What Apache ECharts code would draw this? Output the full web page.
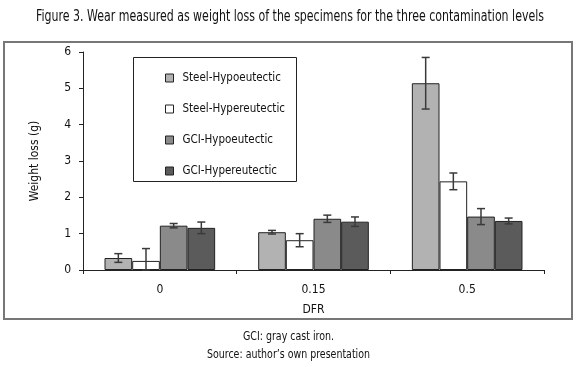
<!DOCTYPE html>
<html><head><meta charset="utf-8">
<script src="https://cdn.jsdelivr.net/npm/echarts@6/dist/echarts.min.js"></script>
<style>html,body{margin:0;padding:0;background:#fff}#c{width:580px;height:367px}</style>
</head><body><div id="c"></div>
<script>
const categories = ['0', '0.15', '0.5'];
const seriesNames = ['Steel-Hypoeutectic', 'Steel-Hypereutectic', 'GCI-Hypoeutectic', 'GCI-Hypereutectic'];
const steelHypo = [0.33, 1.04, 5.14];
const steelHyper = [0.25, 0.82, 2.44];
const gciHypo = [1.22, 1.41, 1.47];
const gciHyper = [1.16, 1.33, 1.35];
const steelHypoErr = [0.12, 0.05, 0.71];
const steelHyperErr = [0.34, 0.18, 0.23];
const gciHypoErr = [0.06, 0.10, 0.22];
const gciHyperErr = [0.16, 0.13, 0.08];
const yTicks = [0, 1, 2, 3, 4, 5, 6];
const titleText = 'Figure 3. Wear measured as weight loss of the specimens for the three contamination levels';
const noteText = 'GCI: gray cast iron.';
const sourceText = 'Source: author\u2019s own presentation';

const values = [steelHypo, steelHyper, gciHypo, gciHyper];
const errors = [steelHypoErr, steelHyperErr, gciHypoErr, gciHyperErr];
const colors = ['#b2b2b2', '#ffffff', '#8a8a8a', '#5b5b5b'];
const FONT = '"Liberation Sans Narrow","DejaVu Sans Condensed","Liberation Sans",sans-serif';
const CAT_GAP = 0.28;

// measure texts to condense them to the reference widths
const mc = document.createElement('canvas').getContext('2d');
function fitScale(text, font, target) { mc.font = font; return target / mc.measureText(text).width; }
const TITLE_FONT = '15px ' + FONT;
const NOTE_FONT = '13px ' + FONT;
const titleScale = fitScale(titleText, TITLE_FONT, 508);
const noteScale = fitScale(noteText, NOTE_FONT, 91);
const sourceScale = fitScale(sourceText, NOTE_FONT, 163);

const chart = echarts.init(document.getElementById('c'), null, {renderer: 'canvas'});

const series = [];
values.forEach((vals, i) => {
  series.push({
    name: seriesNames[i], type: 'bar', data: vals,
    barGap: '0%', barCategoryGap: (CAT_GAP * 100) + '%',
    itemStyle: {color: colors[i], borderColor: '#222', borderWidth: 1},
    emphasis: {disabled: true}
  });
});
values.forEach((vals, i) => {
  series.push({
    type: 'custom', name: 'err' + i,
    data: vals.map((v, k) => [k, v - errors[i][k], v + errors[i][k]]),
    renderItem: function (params, api) {
      const k = api.value(0);
      const band = api.size([1, 0])[0];
      const bw = band * (1 - CAT_GAP) / 4;
      const off = (i - 1.5) * bw;
      const lo = api.coord([k, Math.max(api.value(1), 0)]);
      const hi = api.coord([k, api.value(2)]);
      const x = lo[0] + off;
      const cap = 4;
      const st = {stroke: '#3a3a3a', lineWidth: 1.5};
      return {type: 'group', children: [
        {type: 'line', shape: {x1: x, y1: lo[1], x2: x, y2: hi[1]}, style: st},
        {type: 'line', shape: {x1: x - cap, y1: hi[1], x2: x + cap, y2: hi[1]}, style: st},
        {type: 'line', shape: {x1: x - cap, y1: lo[1], x2: x + cap, y2: lo[1]}, style: st}
      ]};
    },
    z: 10, silent: true
  });
});

chart.setOption({
  animation: false,
  textStyle: {fontFamily: FONT},
  legend: {
    data: seriesNames, orient: 'vertical', left: 160, top: 66, itemGap: 17,
    itemWidth: 8, itemHeight: 8, icon: 'rect', selectedMode: false,
    itemStyle: {borderColor: '#222', borderWidth: 1},
    textStyle: {fontFamily: FONT, fontSize: 11.5, color: '#111', lineHeight: 14, padding: [0, 0, 0, 4]}
  },
  grid: {left: 83, right: 36, top: 52, bottom: 97, containLabel: false},
  xAxis: {
    type: 'category', data: categories,
    name: 'DFR', nameLocation: 'middle', nameGap: 34,
    nameTextStyle: {fontFamily: FONT, fontSize: 12, color: '#111'},
    axisLine: {lineStyle: {color: '#222', width: 1}},
    axisTick: {show: true, length: 4, lineStyle: {color: '#222'}},
    axisLabel: {fontFamily: FONT, fontSize: 12, color: '#111', margin: 14}
  },
  yAxis: {
    type: 'value', min: yTicks[0], max: yTicks[yTicks.length - 1], interval: 1,
    name: 'Weight loss (g)', nameLocation: 'middle', nameGap: 42,
    nameTextStyle: {fontFamily: FONT, fontSize: 12, color: '#111'},
    splitLine: {show: false},
    axisLine: {show: true, lineStyle: {color: '#222', width: 1}},
    axisTick: {show: true, length: 4, lineStyle: {color: '#222'}},
    axisLabel: {fontFamily: FONT, fontSize: 12, color: '#111', margin: 12}
  },
  graphic: [
    {type: 'text', x: 290, y: 17, scaleX: titleScale, style: {text: titleText, font: TITLE_FONT, fill: '#111', textAlign: 'center', textVerticalAlign: 'middle'}},
    {type: 'rect', shape: {x: 4, y: 42, width: 568, height: 277}, style: {fill: 'none', stroke: '#777', lineWidth: 2}, silent: true, z: -1},
    {type: 'rect', shape: {x: 133.5, y: 57.5, width: 163, height: 124}, style: {fill: 'none', stroke: '#222', lineWidth: 1}, silent: true, z: 5},
    {type: 'text', x: 288.5, y: 337, scaleX: noteScale, style: {text: noteText, font: NOTE_FONT, fill: '#111', textAlign: 'center', textVerticalAlign: 'middle'}},
    {type: 'text', x: 288.5, y: 355, scaleX: sourceScale, style: {text: sourceText, font: NOTE_FONT, fill: '#111', textAlign: 'center', textVerticalAlign: 'middle'}}
  ],
  series: series
});
</script></body></html>
